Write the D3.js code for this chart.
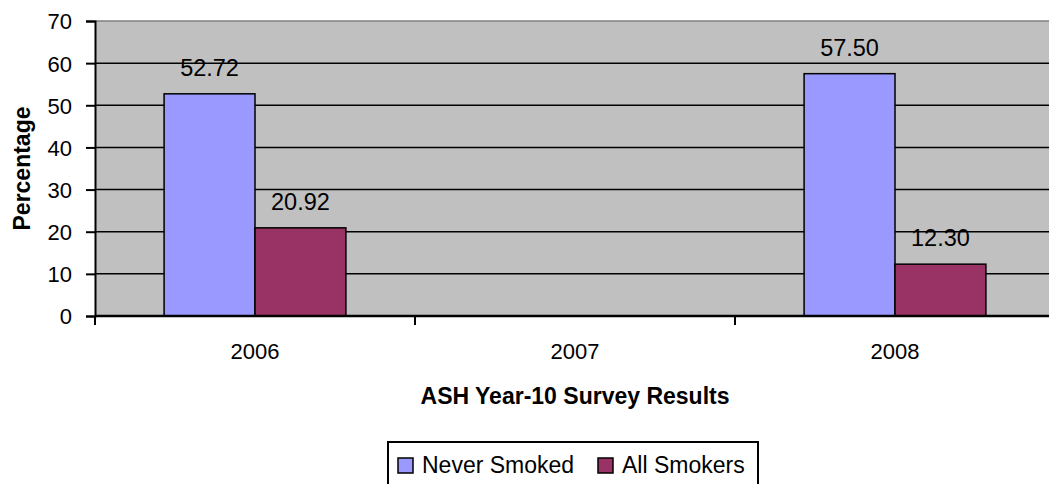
<!DOCTYPE html>
<html>
<head>
<meta charset="utf-8">
<script src="https://cdn.jsdelivr.net/npm/d3@7"></script>
<style>
  html, body { margin: 0; padding: 0; background: #ffffff; }
  svg { display: block; font-family: Arial, "Liberation Sans", sans-serif; }
</style>
</head>
<body>
<svg id="chart" width="1049" height="484"></svg>
<script>
// Donnees
const years = ["2006", "2007", "2008"];
const seriesNames = ["Never Smoked", "All Smokers"];
const neverSmoked = [52.72, null, 57.50];
const allSmokers = [20.92, null, 12.30];
const yTicks = [0, 10, 20, 30, 40, 50, 60, 70];
const seriesColors = ["#9999ff", "#993366"];

const svg = d3.select("#chart");

// Zone de trace (le bord droit depasse la fenetre, comme sur l'original)
const plot = { left: 95, right: 1055, top: 21, bottom: 316 };

const x0 = d3.scaleBand()
    .domain(years)
    .range([plot.left, plot.right])
    .padding(0);

const x1 = d3.scaleBand()
    .domain(seriesNames)
    .range([0, x0.bandwidth()])
    .paddingInner(0)
    .paddingOuter(0.76);

const y = d3.scaleLinear()
    .domain([0, 70])
    .range([plot.bottom, plot.top]);

const values = { "Never Smoked": neverSmoked, "All Smokers": allSmokers };

// Fond gris
svg.append("rect")
    .attr("x", plot.left)
    .attr("y", plot.top)
    .attr("width", plot.right - plot.left)
    .attr("height", plot.bottom - plot.top)
    .attr("fill", "#c0c0c0");

// Lignes de grille
svg.append("g")
    .selectAll("line")
    .data(yTicks.filter(function(t) { return t > 0; }))
    .enter()
    .append("line")
    .attr("x1", plot.left)
    .attr("x2", plot.right)
    .attr("y1", function(d) { return y(d); })
    .attr("y2", function(d) { return y(d); })
    .attr("stroke", function(d) { return d === 70 ? "#808080" : "#000000"; })
    .attr("stroke-width", 1.5);

// Barres
const rows = years.map(function(year, i) {
    return { year: year, items: seriesNames.map(function(name, k) {
        return { name: name, value: values[name][i], color: seriesColors[k] };
    }).filter(function(d) { return d.value !== null; }) };
});

const groups = svg.append("g")
    .selectAll("g")
    .data(rows)
    .enter()
    .append("g")
    .attr("transform", function(d) { return "translate(" + x0(d.year) + ",0)"; });

groups.selectAll("rect")
    .data(function(d) { return d.items; })
    .enter()
    .append("rect")
    .attr("x", function(d) { return x1(d.name); })
    .attr("y", function(d) { return y(d.value); })
    .attr("width", x1.bandwidth())
    .attr("height", function(d) { return y(0) - y(d.value); })
    .attr("fill", function(d) { return d.color; })
    .attr("stroke", "#000000")
    .attr("stroke-width", 1.5);

// Etiquettes de valeurs
groups.selectAll("text")
    .data(function(d) { return d.items; })
    .enter()
    .append("text")
    .attr("x", function(d) { return x1(d.name) + x1.bandwidth() / 2; })
    .attr("y", function(d) { return y(d.value) - 18; })
    .attr("text-anchor", "middle")
    .attr("font-size", "23.5px")
    .attr("fill", "#000000")
    .text(function(d) { return d3.format(".2f")(d.value); });

// Axe Y
const yAxis = svg.append("g")
    .attr("transform", "translate(" + plot.left + ",0)")
    .call(d3.axisLeft(y).tickValues(yTicks).tickSize(9).tickPadding(14));
yAxis.select(".domain").attr("stroke", "#000000").attr("stroke-width", 2);
yAxis.selectAll(".tick line").attr("stroke", "#000000").attr("stroke-width", 2);
yAxis.selectAll(".tick text")
    .attr("font-size", "22px")
    .attr("font-family", "Arial, 'Liberation Sans', sans-serif")
    .attr("fill", "#000000")
    .attr("dy", "0.36em");

// Axe X : graduations entre les categories
const xBoundaries = years.map(function(d) { return x0(d); });
const xAxisG = svg.append("g");
xAxisG.append("line")
    .attr("x1", plot.left)
    .attr("x2", plot.right)
    .attr("y1", plot.bottom)
    .attr("y2", plot.bottom)
    .attr("stroke", "#000000")
    .attr("stroke-width", 2.5);
xAxisG.selectAll(".xtick")
    .data(xBoundaries)
    .enter()
    .append("line")
    .attr("class", "xtick")
    .attr("x1", function(d) { return d; })
    .attr("x2", function(d) { return d; })
    .attr("y1", plot.bottom)
    .attr("y2", plot.bottom + 9)
    .attr("stroke", "#000000")
    .attr("stroke-width", 2);
xAxisG.selectAll(".xlabel")
    .data(years)
    .enter()
    .append("text")
    .attr("class", "xlabel")
    .attr("x", function(d) { return x0(d) + x0.bandwidth() / 2; })
    .attr("y", 359)
    .attr("text-anchor", "middle")
    .attr("font-size", "22px")
    .text(function(d) { return d; });

// Titres des axes
svg.append("text")
    .attr("x", (plot.left + plot.right) / 2)
    .attr("y", 404)
    .attr("text-anchor", "middle")
    .attr("font-size", "23px")
    .attr("font-weight", "bold")
    .text("ASH Year-10 Survey Results");

svg.append("text")
    .attr("transform", "translate(30," + (plot.top + plot.bottom) / 2 + ") rotate(-90)")
    .attr("text-anchor", "middle")
    .attr("font-size", "23px")
    .attr("font-weight", "bold")
    .text("Percentage");

// Legende
const legend = svg.append("g").attr("transform", "translate(388,442)");
legend.append("rect")
    .attr("x", 0)
    .attr("y", 0)
    .attr("width", 370)
    .attr("height", 60)
    .attr("fill", "#ffffff")
    .attr("stroke", "#000000")
    .attr("stroke-width", 2);

const legendX = [10, 210];
const items = legend.selectAll(".item")
    .data(seriesNames)
    .enter()
    .append("g")
    .attr("class", "item")
    .attr("transform", function(d, i) { return "translate(" + legendX[i] + ",0)"; });
items.append("rect")
    .attr("x", 0)
    .attr("y", 16)
    .attr("width", 15)
    .attr("height", 15)
    .attr("fill", function(d, i) { return seriesColors[i]; })
    .attr("stroke", "#000000")
    .attr("stroke-width", 1.5);
items.append("text")
    .attr("x", 24)
    .attr("y", 31)
    .attr("font-size", "23px")
    .text(function(d) { return d; });
</script>
</body>
</html>
